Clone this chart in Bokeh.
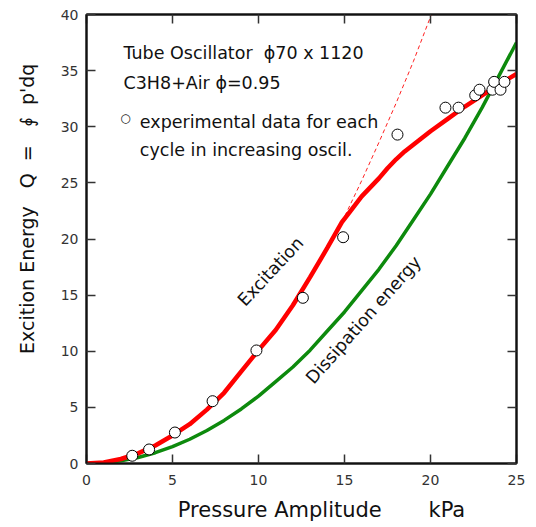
import math
from bokeh.plotting import figure
from bokeh.models import Range1d, LinearAxis, Label, FixedTicker
from bokeh.embed import file_html
from bokeh.resources import INLINE

# experimental data (open circles)
pressure = [2.66, 3.64, 5.14, 7.33, 9.88, 12.58, 14.92, 18.08, 20.87, 21.63,
            22.6, 22.85, 23.6, 23.7, 24.07, 24.3]
energy = [0.69, 1.25, 2.76, 5.55, 10.07, 14.76, 20.16, 29.3, 31.7, 31.7,
          32.8, 33.3, 33.3, 34.0, 33.3, 34.0]

# excitation curve (red)
exc_x = [0, 1, 2, 3, 4, 5, 6, 7, 8, 9, 10, 11, 12, 13, 14, 14.85, 15.2, 15.5,
         16, 16.5, 17, 17.5, 18, 18.5, 19, 20, 21, 22, 23, 24, 25]
exc_y = [0, 0.1, 0.4, 0.9, 1.6, 2.5, 3.5, 4.8, 6.3, 8.2, 10.1, 11.9, 14.1,
         16.6, 19.2, 21.5, 22.2, 22.8, 23.8, 24.6, 25.4, 26.3, 27.1, 27.8,
         28.4, 29.6, 30.7, 31.8, 32.8, 33.8, 34.7]

# extrapolated excitation (red dashed)
ext_x = [14.85, 16, 17, 18, 19, 20.05]
ext_y = [21.5, 25.2, 28.6, 32.1, 35.8, 40.0]

# dissipation energy (green)
dis_x = [0, 1, 2, 3, 4, 5, 6, 7, 8, 9, 10, 11, 12, 13, 14, 15, 16, 17, 18,
         19, 20, 21, 22, 23, 24, 25]
dis_y = [0, 0.06, 0.24, 0.54, 0.96, 1.5, 2.16, 2.94, 3.84, 4.86, 6.0, 7.3,
         8.6, 10.1, 11.8, 13.5, 15.4, 17.3, 19.4, 21.7, 24.0, 26.5, 29.0,
         31.7, 34.6, 37.5]

x_ticks = [0, 5, 10, 15, 20, 25]
y_ticks = [0, 5, 10, 15, 20, 25, 30, 35, 40]

NB = "\u00a0"
FONT = "DejaVu Sans"

p = figure(width=536, height=527, output_backend="svg", toolbar_location=None,
           x_range=Range1d(0, 25), y_range=Range1d(0, 40),
           min_border_left=86, min_border_right=20, min_border_top=14,
           min_border_bottom=64)
p.grid.visible = False
p.outline_line_color = "#222222"
p.outline_line_width = 2
p.background_fill_color = "white"
p.border_fill_color = "white"

p.line(dis_x, dis_y, line_color="#0d8a0d", line_width=3.5)
p.line(ext_x, ext_y, line_color="#ff2020", line_width=1, line_dash="4 3")
p.line(exc_x, exc_y, line_color="#ff0000", line_width=4.5)
p.scatter(pressure, energy, size=11, fill_color="white", line_color="black",
          line_width=1)

def style_axis(ax, ticks, show_labels, standoff=8):
    ax.ticker = FixedTicker(ticks=ticks)
    ax.major_tick_in = 9
    ax.major_tick_out = 0
    ax.minor_tick_in = 0
    ax.minor_tick_out = 0
    ax.major_tick_line_color = "#333333"
    ax.major_tick_line_width = 1.5
    ax.axis_line_color = "#111111"
    ax.axis_line_width = 2
    if show_labels:
        ax.major_label_text_font = FONT
        ax.major_label_text_font_size = "14px"
        ax.major_label_text_color = "#333333"
        ax.major_label_standoff = standoff
    else:
        ax.major_label_overrides = {t: "" for t in ticks}
        ax.major_label_text_font_size = "1px"
        ax.major_label_text_color = None
        ax.major_label_standoff = 0

style_axis(p.xaxis[0], x_ticks, True, standoff=11)
style_axis(p.yaxis[0], y_ticks, True, standoff=8)

p.xaxis[0].axis_label = (NB * 6) + "Pressure Amplitude" + (NB * 7) + "kPa"
p.xaxis[0].axis_label_text_font = FONT
p.xaxis[0].axis_label_text_font_size = "21px"
p.xaxis[0].axis_label_text_font_style = "normal"
p.xaxis[0].axis_label_text_color = "#111111"
p.xaxis[0].axis_label_standoff = 10

p.yaxis[0].axis_label = ((NB * 10) + "Excition Energy" + (NB * 3) + "Q" + NB * 2 + "="
                         + NB * 3 + "\u222e" + NB * 2 + "p'dq")
p.yaxis[0].axis_label_text_font = FONT
p.yaxis[0].axis_label_text_font_size = "19px"
p.yaxis[0].axis_label_text_font_style = "normal"
p.yaxis[0].axis_label_text_color = "#111111"
p.yaxis[0].axis_label_standoff = 20

right_ax = LinearAxis()
style_axis(right_ax, y_ticks, False)
p.add_layout(right_ax, "right")
top_ax = LinearAxis()
style_axis(top_ax, x_ticks, False)
p.add_layout(top_ax, "above")

def txt(x, y, s, size="17.5px", angle=0.0, align="left", baseline="alphabetic"):
    p.add_layout(Label(x=x, y=y, text=s, text_font=FONT, text_font_size=size,
                       text_color="#111111", angle=angle, text_align=align,
                       text_baseline=baseline))

txt(2.15, 36.6, "Tube Oscillator" + NB * 2 + "\u03d570 x 1120")
txt(2.15, 33.9, "C3H8+Air \u03d5=0.95")
txt(2.27, 30.8, "\u25cb", size="12px", align="center", baseline="middle")
txt(3.1, 30.4, "experimental data for each")
txt(3.1, 27.97, "cycle in increasing oscil.")
txt(10.7, 17.1, "Excitation", angle=math.radians(47), align="center", baseline="middle")
txt(16.1, 12.8, "Dissipation energy", angle=math.radians(48.5), align="center", baseline="middle")

open("out.html", "w").write(file_html(p, INLINE))
